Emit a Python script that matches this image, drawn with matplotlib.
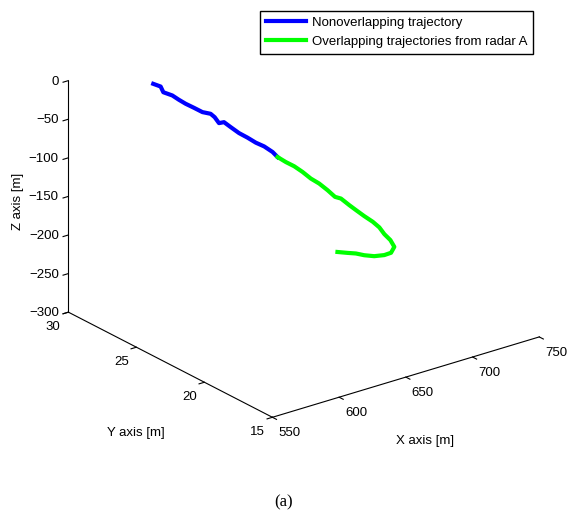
import numpy as np
import matplotlib.pyplot as plt

# trajectory (x, y, z in metres)
blue_x = [593.2, 596.7, 596.7, 601.4, 604.3, 607.3, 611.5, 615.8, 619.9, 620.9,
          622.1, 623.8, 626.8, 631.0, 635.3, 639.5, 643.7, 648.0, 650.7]
blue_y = [28.0, 27.8, 27.6, 27.4, 27.2, 27.0, 26.8, 26.6, 26.4, 26.2,
          26.0, 25.8, 25.6, 25.4, 25.2, 25.0, 24.8, 24.6, 24.5]
blue_z = [-8.5, -12.0, -17.6, -22.4, -27.7, -32.6, -38.2, -44.2, -46.7, -49.8,
          -56.3, -54.1, -60.3, -68.4, -74.7, -81.6, -86.8, -94.5, -101.5]

green_x = [650.7, 654.9, 659.1, 663.3, 667.5, 671.7, 676.0, 679.5, 681.9, 686.1,
           689.1, 693.3, 697.6, 700.5, 702.2, 704.7, 705.6, 701.1, 694.0, 684.4,
           674.9, 666.6, 658.3, 648.7]
green_y = [24.5, 24.3, 24.1, 23.9, 23.7, 23.5, 23.3, 23.1, 22.9, 22.7,
           22.5, 22.3, 22.1, 21.9, 21.7, 21.5, 21.3, 21.1, 20.9, 20.7,
           20.5, 20.3, 20.1, 19.9]
green_z = [-101.5, -108.4, -114.2, -121.9, -130.9, -137.7, -146.8, -155.4, -157.0, -165.9,
           -172.1, -180.3, -188.0, -195.0, -202.8, -210.0, -217.4, -220.9, -218.4, -213.0,
           -205.0, -196.6, -189.7, -181.7]

labels = ['Nonoverlapping trajectory', 'Overlapping trajectories from radar A']

plt.rcParams['font.family'] = 'Liberation Sans'
plt.rcParams['font.size'] = 9.5

fig = plt.figure(figsize=(5.71, 5.11), dpi=100)
ax = fig.add_axes([0.0212, 0.1293, 1.0, 0.9], projection='3d', proj_type='ortho')
ax.set_box_aspect(None, zoom=1.135)

ax.plot(blue_x, blue_y, blue_z, color='#0000ff', lw=3, label=labels[0])
ax.plot(green_x, green_y, green_z, color='#00ff00', lw=3, label=labels[1])

ax.set_xlim(550, 750)
ax.set_ylim(15, 30)
ax.set_zlim(-300, 0)
ax.set_xticks([550, 600, 650, 700, 750])
ax.set_yticks([15, 20, 25, 30])
ax.set_zticks([-300, -250, -200, -150, -100, -50, 0])
ax.set_zticklabels(['\u2212300', '\u2212250', '\u2212200', '\u2212150', '\u2212100', '\u221250', '0'])
ax.tick_params(axis='x', pad=-3)
ax.tick_params(axis='y', pad=-3)
ax.tick_params(axis='z', pad=-4.5)
plt.setp(ax.get_xticklabels(), ha='left')
plt.setp(ax.get_yticklabels(), ha='right')
plt.setp(ax.get_zticklabels(), ha='right', va='center_baseline')

ax.view_init(elev=23.2, azim=-127.4)
ax.grid(False)
for axis in (ax.xaxis, ax.yaxis, ax.zaxis):
    axis.set_pane_color((1, 1, 1, 0))
    axis.pane.set_edgecolor((1, 1, 1, 0))
    axis.line.set_color('black')
    axis.line.set_linewidth(0.8)
    axis._axinfo['tick']['inward_factor'] = 0.25
    axis._axinfo['tick']['outward_factor'] = 0.0

fig.text(0.031, 0.606, 'Z axis [m]', rotation=90, ha='center', va='center')
fig.text(0.238, 0.153, 'Y axis [m]', ha='center', va='center')
fig.text(0.744, 0.137, 'X axis [m]', ha='center', va='center')
fig.text(0.496, 0.016, '(a)', ha='center', va='center', fontsize=12, family='Liberation Serif')

fig.legend(loc='upper right', bbox_to_anchor=(0.9335, 0.979), fancybox=False,
           edgecolor='black', framealpha=1, fontsize=9.5, handlelength=3.0,
           handletextpad=0.45, borderpad=0.45, labelspacing=0.5, borderaxespad=0)

fig.savefig('out.png', dpi=100)
